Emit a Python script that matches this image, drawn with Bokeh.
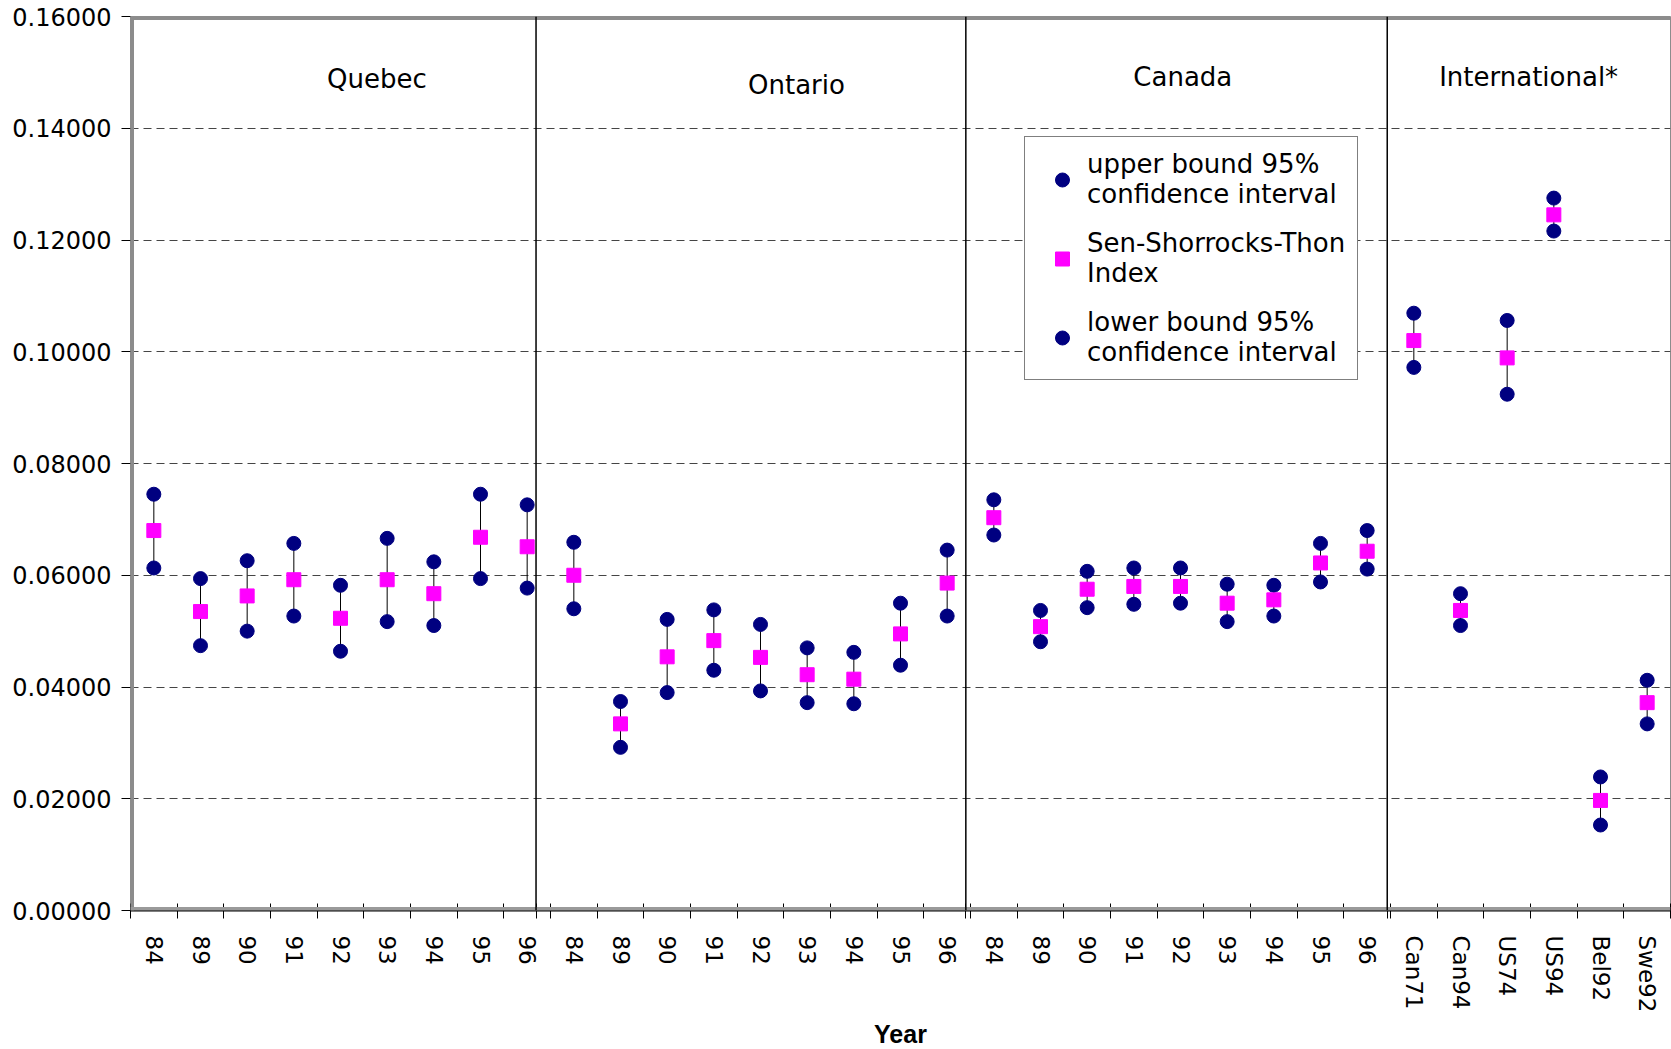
from bokeh.plotting import figure
from bokeh.models import (Range1d, FixedTicker, NumeralTickFormatter, Span, Label,
                          Legend, LegendItem)
from bokeh.embed import file_html
from bokeh.resources import INLINE

# ---------------- data ----------------
regions = ["Quebec", "Ontario", "Canada", "International*"]
region_sizes = [9, 9, 9, 6]

tick_labels = ["84", "89", "90", "91", "92", "93", "94", "95", "96",
               "84", "89", "90", "91", "92", "93", "94", "95", "96",
               "84", "89", "90", "91", "92", "93", "94", "95", "96",
               "Can71", "Can94", "US74", "US94", "Bel92", "Swe92"]

upper = [0.0745, 0.0594, 0.0626, 0.0657, 0.0582, 0.0666, 0.0624, 0.0745, 0.0726,
         0.0659, 0.0374, 0.0521, 0.0538, 0.0512, 0.0470, 0.0462, 0.0550, 0.0645,
         0.0735, 0.0537, 0.0607, 0.0613, 0.0613, 0.0584, 0.0582, 0.0657, 0.0680,
         0.1069, 0.0567, 0.1056, 0.1275, 0.0239, 0.0412]

sst = [0.0680, 0.0535, 0.0563, 0.0592, 0.0523, 0.0592, 0.0567, 0.0668, 0.0651,
       0.0600, 0.0334, 0.0454, 0.0483, 0.0453, 0.0422, 0.0414, 0.0495, 0.0586,
       0.0703, 0.0508, 0.0575, 0.0580, 0.0580, 0.0550, 0.0556, 0.0622, 0.0643,
       0.1020, 0.0537, 0.0989, 0.1245, 0.0197, 0.0372]

lower = [0.0613, 0.0474, 0.0500, 0.0527, 0.0464, 0.0517, 0.0510, 0.0594, 0.0577,
         0.0540, 0.0292, 0.0390, 0.0430, 0.0393, 0.0372, 0.0370, 0.0439, 0.0527,
         0.0672, 0.0481, 0.0542, 0.0548, 0.0550, 0.0517, 0.0527, 0.0588, 0.0611,
         0.0972, 0.0510, 0.0924, 0.1216, 0.0153, 0.0334]

y_ticks = [0.0, 0.02, 0.04, 0.06, 0.08, 0.10, 0.12, 0.14, 0.16]

# ---------------- layout constants ----------------
n = len(tick_labels)
xc = [i + 0.5 for i in range(n)]
separators = [8.69, 17.9, 26.93]
region_label_x = [5.28, 14.27, 22.55, 29.96]
region_label_y = [0.1489, 0.1478, 0.1491, 0.1491]
FONT = "DejaVu Sans"

p = figure(frame_width=1540, frame_height=894,
           x_range=Range1d(0, n), y_range=Range1d(0, 0.16),
           output_backend="svg", toolbar_location=None,
           min_border_left=130, min_border_right=1, min_border_top=16,
           min_border_bottom=130, background_fill_color="white",
           border_fill_color="white")

p.outline_line_color = "#8c8c8c"
p.outline_line_width = 1

# ---- x axis ----
xt = FixedTicker(ticks=xc, minor_ticks=list(range(n + 1)) + separators)
p.xaxis.ticker = xt
p.xaxis.major_label_overrides = {x: lab for x, lab in zip(xc, tick_labels)}
p.xaxis.major_label_orientation = "vertical"
p.xaxis.major_tick_out = 0
p.xaxis.major_tick_in = 0
p.xaxis.minor_tick_in = 7
p.xaxis.minor_tick_out = 8
p.xaxis.minor_tick_line_color = "black"
p.xaxis.axis_line_color = "black"
p.xaxis.axis_line_width = 2
p.xaxis.major_label_standoff = 17
p.xaxis.major_label_text_font = FONT
p.xaxis.major_label_text_font_size = "23px"
p.xaxis.major_label_text_color = "black"
p.xaxis.axis_label = "Year"
p.xaxis.axis_label_text_font = "Liberation Sans"
p.xaxis.axis_label_text_font_style = "bold"
p.xaxis.axis_label_text_font_size = "25px"
p.xaxis.axis_label_text_color = "black"
p.xaxis.axis_label_standoff = 5
p.xgrid.visible = False

# ---- y axis ----
yt = FixedTicker(ticks=y_ticks)
p.yaxis.ticker = yt
p.yaxis.formatter = NumeralTickFormatter(format="0.00000")
p.yaxis.major_tick_out = 9
p.yaxis.major_tick_in = 0
p.yaxis.major_tick_line_color = "black"
p.yaxis.minor_tick_line_color = None
p.yaxis.axis_line_color = None
p.yaxis.major_label_standoff = 10
p.yaxis.major_label_text_font = FONT
p.yaxis.major_label_text_font_size = "24px"
p.yaxis.major_label_text_color = "black"
p.ygrid.ticker = yt
p.ygrid.grid_line_color = "#454545"
p.ygrid.grid_line_dash = "8 5"
p.ygrid.grid_line_width = 1

# ---- thick frame borders (Excel-like) ----
p.add_layout(Span(location=0.16, dimension="width", line_color="#8c8c8c", line_width=7))
p.add_layout(Span(location=0, dimension="height", line_color="#8c8c8c", line_width=7))
p.add_layout(Span(location=0, dimension="width", line_color="#9a9a9a", line_width=7))

# ---- region separators ----
for s in separators:
    p.add_layout(Span(location=s, dimension="height", line_color="black", line_width=1.5))

# ---- region labels ----
for name, lx, ly in zip(regions, region_label_x, region_label_y):
    p.add_layout(Label(x=lx, y=ly, text=name, text_align="center", text_baseline="middle",
                       text_font=FONT, text_font_size="26px", text_color="black"))

# ---- data ----
p.segment(x0=xc, y0=lower, x1=xc, y1=upper, line_color="black", line_width=1)
r_up = p.scatter(xc, upper, marker="circle", size=14, fill_color="#000080", line_color="#000080")
r_lo = p.scatter(xc, lower, marker="circle", size=14, fill_color="#000080", line_color="#000080")
r_sst = p.scatter(xc, sst, marker="square", size=14, fill_color="#FF00FF", line_color="#FF00FF")

legend = Legend(items=[
    LegendItem(label="upper bound 95%\nconfidence interval", renderers=[r_up]),
    LegendItem(label="Sen-Shorrocks-Thon\nIndex", renderers=[r_sst]),
    LegendItem(label="lower bound 95%\nconfidence interval", renderers=[r_lo]),
], location=(894, 530))
legend.label_text_font = FONT
legend.label_text_font_size = "26px"
legend.label_text_color = "black"
legend.border_line_color = "black"
legend.border_line_width = 1
legend.background_fill_color = "white"
legend.background_fill_alpha = 1
legend.padding = 12
legend.spacing = 19
legend.margin = 0
legend.glyph_width = 50
legend.glyph_height = 35
legend.label_standoff = 0
p.add_layout(legend)

open("out.html", "w").write(file_html(p, INLINE))
